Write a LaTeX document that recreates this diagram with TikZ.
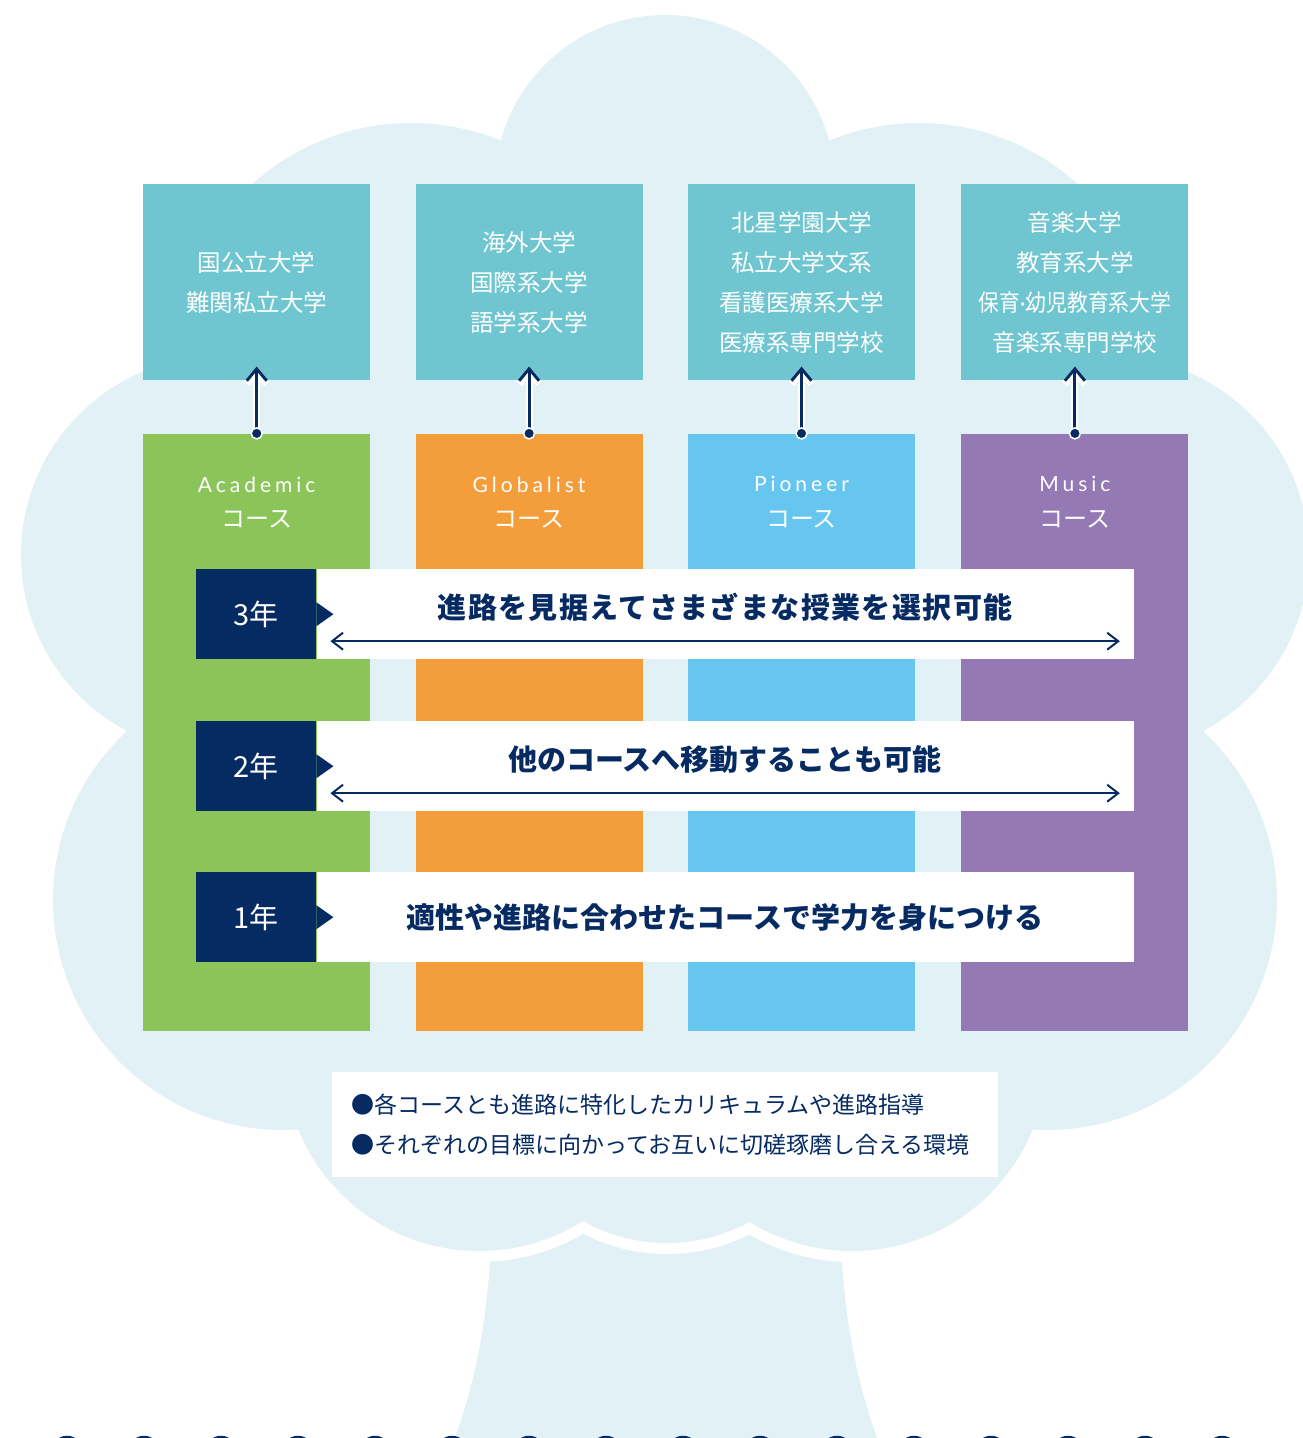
\documentclass[tikz,border=0pt]{standalone}
\usepackage{graphicx}
\usepackage{fontspec}
\setmainfont{Noto Sans CJK JP}
\newfontfamily\latinfont[LetterSpace=19]{Lato}
\newfontfamily\dotfont{Lato}
\usetikzlibrary{positioning}
\usetikzlibrary{arrows.meta}

\definecolor{navy}{HTML}{062B63}
\definecolor{cloud}{HTML}{E2F1F5}
\definecolor{goal}{HTML}{6FC6D0}
\definecolor{academic}{HTML}{8BC458}
\definecolor{globalist}{HTML}{F49E3B}
\definecolor{pioneer}{HTML}{67C6F0}
\definecolor{music}{HTML}{9579B5}

\begin{document}
\begin{tikzpicture}[x=1pt,y=-1pt,inner sep=0pt,node distance=45pt,
    goalbox/.style={fill=goal,text=white,minimum width=227pt,minimum height=196pt,
        align=center,font=\fontsize{23.5}{40}\selectfont},
    coursebox/.style={minimum width=227pt,minimum height=597pt},
    coursename/.style={text=white,font=\fontsize{24}{24}\selectfont},
    yearbox/.style={fill=navy,text=white,minimum width=120pt,minimum height=90pt,
        font=\fontsize{29}{29}\selectfont},
    yearband/.style={fill=white,minimum width=817pt,minimum height=90pt},
    rowtext/.style={text=navy,font=\bfseries\fontsize{29}{29}\selectfont},
    halo/.style={white,line width=7pt,-{Straight Barb[length=12pt,width=20pt]}},
    uparrow/.style={navy,line width=3pt,-{Straight Barb[length=12pt,width=20pt]}},
    both/.style={navy,line width=2pt,
        {Straight Barb[length=11pt,width=17pt]}-{Straight Barb[length=11pt,width=17pt]}}]
    \useasboundingbox (0,0) rectangle (1303,1438);
    \clip (0,0) rectangle (1303,1438);
    % tree: trunk, white rim, crown
    \fill[cloud] (492,1150) -- (490,1262) .. controls (484,1350) and (468,1400)
        .. (455,1438) -- (877,1438) .. controls (864,1400) and (848,1350)
        .. (842,1262) -- (840,1150) -- cycle;
    \draw[white,line width=22pt] (479,1056) circle (195) (667,1072) circle (171)
        (852,1056) circle (195);
    \fill[cloud] (665,185) circle (170) (411,360) circle (237) (919,360) circle (237)
        (220,555) circle (199) (1110,555) circle (199)
        (283,900) circle (230) (1047,900) circle (230)
        (479,1056) circle (195) (667,1072) circle (171) (852,1056) circle (195);
    \fill[cloud] (230,340) rectangle (1100,1100);
    \draw[navy,line width=2.5pt] (67,1452) circle (15) (144,1452) circle (15)
        (221,1452) circle (15) (298,1452) circle (15) (375,1452) circle (15)
        (452,1452) circle (15) (529,1452) circle (15) (606,1452) circle (15)
        (683,1452) circle (15) (760,1452) circle (15) (837,1452) circle (15)
        (914,1452) circle (15) (991,1452) circle (15) (1068,1452) circle (15)
        (1145,1452) circle (15) (1222,1452) circle (15);

    % goals
    \node[goalbox,anchor=north west] (T1) at (143,184) {国公立大学\\難関私立大学};
    \node[goalbox,right=45pt of T1] (T2) {海外大学\\国際系大学\\語学系大学};
    \node[goalbox,right=45pt of T2] (T3)
        {北星学園大学\\私立大学文系\\看護医療系大学\\医療系専門学校};
    \node[goalbox,right=46pt of T3] (T4)
        {音楽大学\\教育系大学\\\scalebox{0.885}[1]{保育{\dotfont·}幼児教育系大学}\\音楽系専門学校};

    % courses
    \node[coursebox,fill=academic,below=53pt of T1] (C1) {};
    \node[coursebox,fill=globalist,below=53pt of T2] (C2) {};
    \node[coursebox,fill=pioneer,below=53pt of T3] (C3) {};
    \node[coursebox,fill=music,below=53pt of T4] (C4) {};
    \node[coursename,font=\latinfont\fontsize{21}{21}\selectfont] (A1)
        at ([yshift=-51pt]C1.north) {Academic};
    \node[coursename,font=\latinfont\fontsize{21}{21}\selectfont] (A2)
        at ([yshift=-51pt]C2.north) {Globalist};
    \node[coursename,font=\latinfont\fontsize{21}{21}\selectfont] (A3)
        at ([yshift=-51pt]C3.north) {Pioneer};
    \node[coursename,font=\latinfont\fontsize{21}{21}\selectfont] (A4)
        at ([yshift=-51pt]C4.north) {Music};
    \node[coursename] (K1) at ([yshift=-86pt]C1.north) {コース};
    \node[coursename] (K2) at ([yshift=-86pt]C2.north) {コース};
    \node[coursename] (K3) at ([yshift=-86pt]C3.north) {コース};
    \node[coursename] (K4) at ([yshift=-86pt]C4.north) {コース};

    \draw[halo] (C1.north) -- ([yshift=14pt]T1.south);
    \draw[uparrow] (C1.north) -- ([yshift=14pt]T1.south);
    \fill[navy,draw=white,line width=1.5pt] (C1.north) circle (5.5);
    \draw[halo] (C2.north) -- ([yshift=14pt]T2.south);
    \draw[uparrow] (C2.north) -- ([yshift=14pt]T2.south);
    \fill[navy,draw=white,line width=1.5pt] (C2.north) circle (5.5);
    \draw[halo] (C3.north) -- ([yshift=14pt]T3.south);
    \draw[uparrow] (C3.north) -- ([yshift=14pt]T3.south);
    \fill[navy,draw=white,line width=1.5pt] (C3.north) circle (5.5);
    \draw[halo] (C4.north) -- ([yshift=14pt]T4.south);
    \draw[uparrow] (C4.north) -- ([yshift=14pt]T4.south);
    \fill[navy,draw=white,line width=1.5pt] (C4.north) circle (5.5);

    % years
    \node[yearbox,anchor=north west] (Y3) at (196,569) {3年};
    \node[yearband,right=0pt of Y3] (R3) {};
    \node[yearbox,anchor=north west] (Y2) at (196,721) {2年};
    \node[yearband,right=0pt of Y2] (R2) {};
    \node[yearbox,anchor=north west] (Y1) at (196,872) {1年};
    \node[yearband,right=0pt of Y1] (R1) {};
    \fill[navy] ([yshift=12pt]Y3.east) -- ([xshift=17pt]Y3.east)
        -- ([yshift=-12pt]Y3.east) -- cycle;
    \fill[navy] ([yshift=12pt]Y2.east) -- ([xshift=17pt]Y2.east)
        -- ([yshift=-12pt]Y2.east) -- cycle;
    \fill[navy] ([yshift=12pt]Y1.east) -- ([xshift=17pt]Y1.east)
        -- ([yshift=-12pt]Y1.east) -- cycle;
    \node[rowtext] (S3) at ([yshift=7pt]R3.center)
        {\addfontfeature{LetterSpace=4.8}進路を見据えてさまざまな授業を選択可能};
    \node[rowtext] (S2) at ([yshift=7pt]R2.center) {他のコースへ移動することも可能};
    \node[rowtext] (S1) at (R1.center) {適性や進路に合わせたコースで学力を身につける};
    \draw[both] ([xshift=14pt,yshift=-27pt]R3.west) -- ([xshift=-14pt,yshift=-27pt]R3.east);
    \draw[both] ([xshift=14pt,yshift=-27pt]R2.west) -- ([xshift=-14pt,yshift=-27pt]R2.east);

    % note
    \node[fill=white,minimum width=666pt,minimum height=105pt,anchor=north west]
        (N) at (332,1072) {};
    \node[text=navy,align=left,anchor=west,font=\fontsize{23}{40}\selectfont]
        (NT) at ([xshift=19pt]N.west)
        {●各コースとも進路に特化したカリキュラムや進路指導\\●それぞれの目標に向かってお互いに切磋琢磨し合える環境};
\end{tikzpicture}
\end{document}
